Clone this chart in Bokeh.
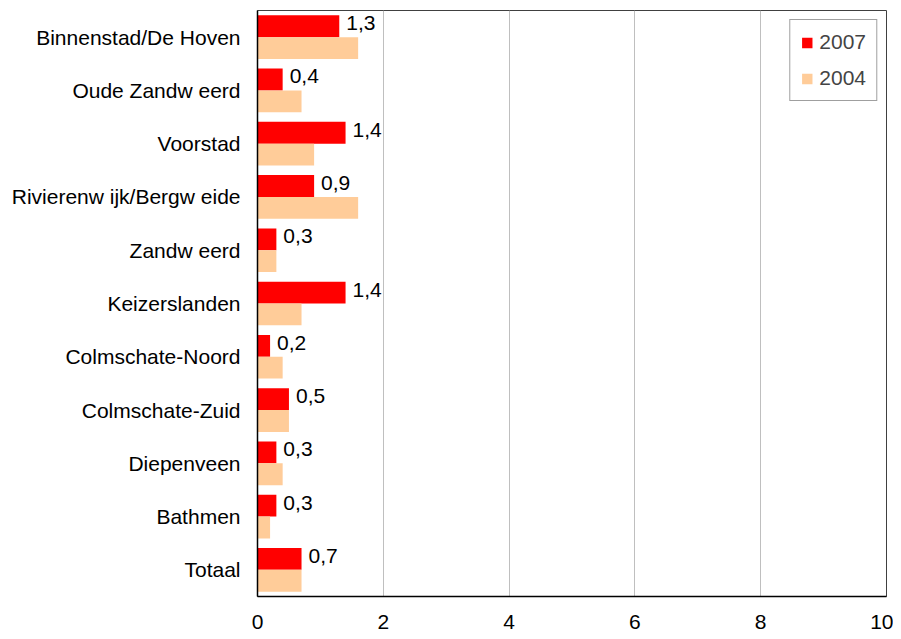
from bokeh.plotting import figure
from bokeh.models import FactorRange, Range1d, FixedTicker, ColumnDataSource, Legend, LegendItem
from bokeh.transform import dodge
from bokeh.embed import file_html
from bokeh.resources import INLINE
from bokeh.core.properties import value

categories = ["Binnenstad/De Hoven", "Oude Zandw eerd", "Voorstad", "Rivierenw ijk/Bergw eide",
              "Zandw eerd", "Keizerslanden", "Colmschate-Noord", "Colmschate-Zuid",
              "Diepenveen", "Bathmen", "Totaal"]
values_2007 = [1.3, 0.4, 1.4, 0.9, 0.3, 1.4, 0.2, 0.5, 0.3, 0.3, 0.7]
values_2004 = [1.6, 0.7, 0.9, 1.6, 0.3, 0.7, 0.4, 0.5, 0.4, 0.2, 0.7]
x_ticks = [0, 2, 4, 6, 8, 10]

FONT = "Liberation Sans"
FS = "21px"

src = ColumnDataSource(dict(
    cat=categories,
    v2007=values_2007,
    v2004=values_2004,
    lbl=[f"{v:.1f}".replace(".", ",") for v in values_2007],
))

p = figure(width=893, height=631, output_backend="svg", toolbar_location=None,
           y_range=FactorRange(*list(reversed(categories)), range_padding=0),
           x_range=Range1d(0, 10),
           min_border_left=257, min_border_right=7, min_border_top=10, min_border_bottom=30)

r07 = p.hbar(y=dodge("cat", 0.205, range=p.y_range), right="v2007", height=0.41,
             source=src, color="#ff0000", line_color=None)
r04 = p.hbar(y=dodge("cat", -0.205, range=p.y_range), right="v2004", height=0.41,
             source=src, color="#ffcc99", line_color=None)

p.text(x="v2007", y=dodge("cat", 0.205, range=p.y_range), text="lbl", source=src,
       x_offset=7, y_offset=-3, text_baseline="middle", text_align="left",
       text_font=value(FONT), text_font_size=FS, text_color="black")

p.xaxis.ticker = FixedTicker(ticks=x_ticks)
for ax in (p.xaxis[0], p.yaxis[0]):
    ax.major_tick_line_color = None
    ax.minor_tick_line_color = None
    ax.axis_line_color = "black"
    ax.axis_line_width = 1.5
    ax.major_label_text_font = FONT
    ax.major_label_text_font_size = FS
    ax.major_label_text_color = "black"
p.xaxis.major_label_standoff = 12
p.yaxis.major_label_standoff = 11

p.xgrid.grid_line_color = "#bfbfbf"
p.xgrid.grid_line_width = 1
p.ygrid.grid_line_color = None
p.outline_line_color = "#404040"
p.outline_line_width = 1

legend = Legend(items=[LegendItem(label="2007", renderers=[r07]),
                       LegendItem(label="2004", renderers=[r04])],
                location="top_right", margin=9, padding=10, spacing=12,
                glyph_width=13, glyph_height=13, label_standoff=6,
                label_text_font=FONT, label_text_font_size=FS,
                border_line_color="#404040", border_line_width=1,
                background_fill_color="white")
p.add_layout(legend)

open("out.html", "w").write(file_html(p, INLINE))
